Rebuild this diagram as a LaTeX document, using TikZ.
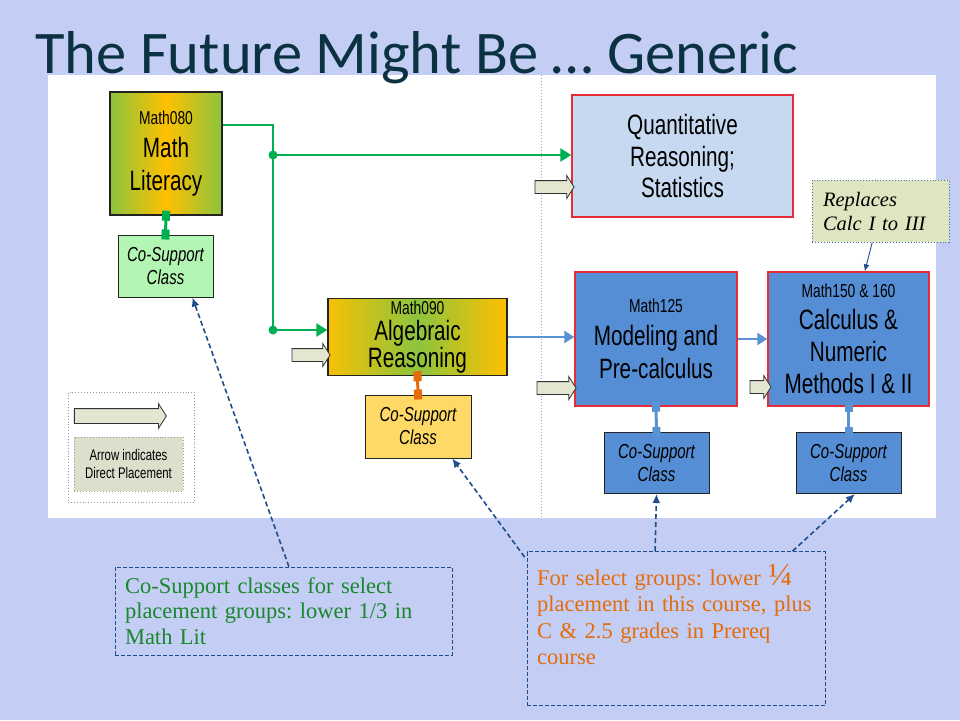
\documentclass[tikz,border=0pt]{standalone}
\usepackage{fontspec}
\setmainfont{Liberation Serif}
\newfontfamily\arl{Liberation Sans}[FakeStretch=0.74]
\newfontfamily\ttl{Carlito}
\usetikzlibrary{arrows.meta,shapes.arrows,calc}
\definecolor{bg}{RGB}{196,205,243}
\definecolor{titlec}{RGB}{10,50,66}
\definecolor{greenline}{RGB}{0,176,80}
\definecolor{blueline}{RGB}{90,146,214}
\definecolor{boxblue}{RGB}{85,142,213}
\definecolor{boxred}{RGB}{228,45,55}
\definecolor{qrfill}{RGB}{198,217,241}
\definecolor{orangeline}{RGB}{228,108,10}
\definecolor{noteblue}{RGB}{31,78,140}
\definecolor{noteorange}{RGB}{228,108,10}
\definecolor{notegreen}{RGB}{25,135,45}
\definecolor{lgreen}{RGB}{140,196,62}
\definecolor{lorange}{RGB}{255,192,0}
\definecolor{cosgreen}{RGB}{179,245,179}
\definecolor{cosorange}{RGB}{255,217,102}
\definecolor{legfill}{RGB}{221,222,204}
\definecolor{arrfill}{RGB}{228,230,210}
\definecolor{arredge}{RGB}{50,50,50}
\definecolor{edge}{RGB}{35,35,35}
\definecolor{replfill}{RGB}{221,230,192}
\frenchspacing
\begin{document}
\begin{tikzpicture}[x=1pt,y=-1pt,
  bigbox/.style={line width=1.4pt, inner sep=0pt, align=center,
    font=\arl\fontsize{28}{33}\selectfont},
  cosup/.style={draw=edge, line width=1pt, inner sep=0pt, align=center,
    minimum width=105pt, minimum height=61pt,
    font=\arl\itshape\fontsize{20.3}{23}\selectfont},
  place/.style={single arrow, draw=arredge, fill=arrfill, line width=0.8pt,
    inner xsep=0pt, inner ysep=6pt, single arrow head extend=5pt,
    single arrow tip angle=115},
  gflow/.style={draw=greenline, line width=2.6pt, -{Triangle[length=11pt,width=13pt]}},
  bflow/.style={draw=blueline, line width=2.6pt, -{Triangle[length=10pt,width=12pt]}},
  link/.style={line width=3pt, {Square[length=10pt,width=8pt]}-{Square[length=10pt,width=8pt]},
    shorten <=-5pt, shorten >=-5pt},
  notearrow/.style={draw=noteblue, line width=1.6pt, dash pattern=on 5pt off 3pt,
    -{Latex[length=9pt,width=8pt]}},
  notebox/.style={draw=noteblue, line width=0.8pt, dash pattern=on 4pt off 2pt}
]
\useasboundingbox (0,0) rectangle (960,720);
\fill[bg] (0,0) rectangle (960,720);
\fill[white] (48,75) rectangle (936,518);
\draw[gray!70, line width=1pt, dotted] (541,75) -- (541,518);

\node[anchor=base west, inner sep=0pt, text=titlec, font=\ttl\fontsize{60.5}{60}\selectfont]
  (title) at (35,73) {The Future Might Be … Generic};

% courses
\node[bigbox, draw=edge, left color=lgreen, right color=lgreen, middle color=lorange,
  minimum width=112pt, minimum height=123pt] (mathlit) at (166,153.5)
  {{\fontsize{18.7}{20}\selectfont Math080}\\Math\\Literacy};
\node[bigbox, draw=boxred, fill=qrfill, minimum width=221pt, minimum height=122pt,
  font=\arl\fontsize{28}{31.5}\selectfont] (qr) at (682.5,156)
  {Quantitative\\Reasoning;\\Statistics};
\node[bigbox, draw=edge, left color=lorange!92!lgreen, right color=lorange, middle color=lgreen,
  minimum width=179pt, minimum height=77pt, font=\arl\fontsize{28}{25.5}\selectfont]
  (algebra) at (417.5,337)
  {{\fontsize{18.7}{20}\selectfont Math090}\\Algebraic\\Reasoning};
\node[bigbox, draw=boxred, fill=boxblue, minimum width=162pt, minimum height=134pt]
  (model) at (656,339)
  {{\fontsize{18.7}{20}\selectfont Math125}\\Modeling and\\Pre-calculus};
\node[bigbox, draw=boxred, fill=boxblue, minimum width=161pt, minimum height=134pt,
  font=\arl\fontsize{28}{32}\selectfont] (calc) at (848.5,339)
  {{\fontsize{18.7}{20}\selectfont Math150 \& 160}\\Calculus \&\\Numeric\\Methods I \& II};

% co-support classes
\node[cosup, fill=cosgreen, minimum width=95pt, minimum height=62pt] (cosL) at (165.5,266) {Co-Support\\Class};
\node[cosup, fill=cosorange, minimum width=106pt, minimum height=63pt] (cosA) at (418,426.5) {Co-Support\\Class};
\node[cosup, fill=boxblue] (cosM) at (656.5,463) {Co-Support\\Class};
\node[cosup, fill=boxblue] (cosC) at (848.5,463) {Co-Support\\Class};

\draw[link, draw=greenline] (mathlit.south) -- (cosL.north);
\draw[link, draw=orangeline] (algebra.south) -- (cosA.north);
\draw[link, draw=blueline] (model.south) -- (cosM.north);
\draw[link, draw=blueline] (calc.south) -- (cosC.north);

% direct placement arrows
\node[place, minimum height=39pt] (pQR) at (552.5,187) {};
\node[place, minimum height=38pt] (pAlg) at (309,355) {};
\node[place, minimum height=39pt] (pMod) at (554.5,388) {};
\node[place, minimum height=21pt] (pCalc) at (758.5,387) {};

% legend
\node[draw=gray!80, dotted, line width=0.9pt, minimum width=126pt, minimum height=110pt,
  inner sep=0pt] (legend) at (131,447) {};
\node[place, minimum height=92pt, inner ysep=7pt] (pLeg) at (118,416) {};
\node[draw=gray!80, dotted, line width=0.9pt, fill=legfill, minimum width=109pt, minimum height=54pt,
  inner sep=0pt, align=center, font=\arl\fontsize{15.4}{18}\selectfont] (legtxt) at (128.5,464)
  {Arrow indicates\\Direct Placement};

% flows
\coordinate (g0) at (273,125);
\coordinate (g1) at (273,330);
\coordinate (g2) at (273,155);
\draw[gflow] (g0 -| mathlit.east) -- (g0) -- (g1) -- (g1 -| algebra.west);
\draw[gflow] (g2) -- (g2 -| qr.west);
\fill[greenline] (g1) circle (4.5pt);
\fill[greenline] (g2) circle (4.5pt);
\draw[bflow] (algebra.east) -- (algebra.east -| model.west);
\draw[bflow] (model.east) -- (model.east -| calc.west);

% replaces note
\node[draw=noteblue!80, dotted, line width=0.9pt, fill=replfill, text width=115pt,
  inner xsep=11pt, inner ysep=0pt, minimum height=62pt, align=left,
  font=\itshape\fontsize{20.5}{24}\selectfont] (repl) at (880.5,211)
  {Replaces\\Calc I to III};
\draw[noteblue, line width=0.9pt, -{Latex[length=7pt,width=6pt]}]
  ($(repl.south west)!0.44!(repl.south east)$) -- ($(calc.north west)!0.6!(calc.north east)$);

% notes
\node[notebox, text=notegreen, text width=317pt, inner xsep=10pt, inner ysep=0pt,
  minimum height=88pt, align=left, font=\fontsize{22.5}{25.5}\selectfont] (note1) at (283.5,611)
  {Co-Support classes for select\\placement groups: lower 1/3 in\\Math Lit};
\node[notebox, minimum width=298pt, minimum height=154pt, inner sep=0pt] (note2) at (676,628.5) {};
\node[anchor=north west, inner sep=0pt, text=noteorange, text width=290pt, align=left,
  font=\fontsize{22.5}{26.5}\selectfont] (note2txt) at (537,564)
  {For select groups: lower {\fontsize{32}{26}\selectfont ¼}\\placement in this course, plus\\C \& 2.5 grades in Prereq\\course};

\draw[notearrow] ($(note1.north west)!0.516!(note1.north east)$) -- ($(cosL.south west)!0.78!(cosL.south east)$);
\draw[notearrow] ($(note2.north west)+(-2,6)$) -- ($(cosA.south west)!0.82!(cosA.south east)$);
\draw[notearrow] ($(note2.north west)!0.43!(note2.north east)$) -- (cosM.south);
\draw[notearrow] ($(note2.north west)!0.89!(note2.north east)$) -- ($(cosC.south west)!0.56!(cosC.south east)$);
\end{tikzpicture}
\end{document}
